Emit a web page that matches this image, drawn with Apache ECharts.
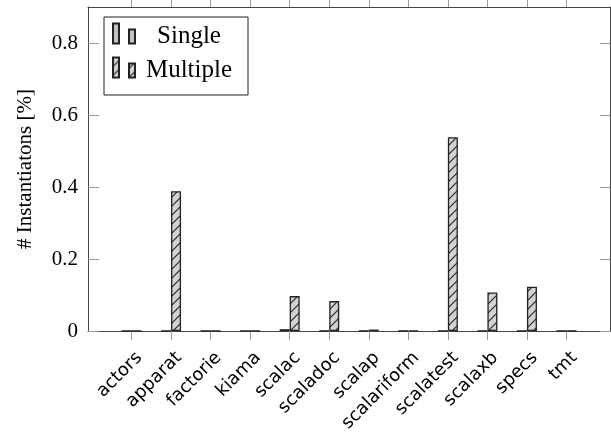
<!DOCTYPE html>
<html>
<head>
<meta charset="utf-8">
<script src="https://cdn.jsdelivr.net/npm/echarts@6/dist/echarts.min.js"></script>
<style>
  html, body { margin: 0; padding: 0; background: #fff; }
  #chart { width: 611px; height: 438px; }
</style>
</head>
<body>
<div id="chart"></div>
<script>
// 项目名
const categories = ['actors', 'apparat', 'factorie', 'kiama', 'scalac', 'scaladoc',
  'scalap', 'scalariform', 'scalatest', 'scalaxb', 'specs', 'tmt'];
// 单次实例化比例
const singleValues = [0, 0, 0, 0, 0.005, 0, 0, 0, 0, 0, 0, 0];
// 多次实例化比例
const multipleValues = [0, 0.388, 0, 0, 0.097, 0.083, 0.004, 0.001, 0.538, 0.107, 0.123, 0];
const yTicks = [0, 0.2, 0.4, 0.6, 0.8];
const catIndex = categories.map((c, i) => i);

const serif = '"Liberation Serif", "DejaVu Serif", serif';
const xMin = -1.1, xMax = 12.1;
const labelShift = 0.2; // 旋转标签向右挪一点

// 斜线填充
function hatch() {
  const c = document.createElement('canvas');
  c.width = 9; c.height = 9;
  const g = c.getContext('2d');
  g.fillStyle = '#d2d2d2';
  g.fillRect(0, 0, 9, 9);
  g.strokeStyle = '#222';
  g.lineWidth = 1.1;
  g.beginPath();
  g.moveTo(-1, 10); g.lineTo(10, -1);
  g.moveTo(-1, 1); g.lineTo(1, -1);
  g.moveTo(8, 10); g.lineTo(10, 8);
  g.stroke();
  return { image: c, repeat: 'repeat' };
}

const toPairs = vals => vals.map((v, i) => [i, v]);

let myChart = echarts.init(document.getElementById('chart'));
let option = {
  backgroundColor: '#fff',
  animation: false,
  grid: { left: 88, top: 7, right: 1, bottom: 107 },
  legend: {
    left: 104, top: 17,
    orient: 'vertical',
    borderColor: '#222', borderWidth: 1,
    padding: [1, 10, 12, 8],
    itemGap: 3,
    itemWidth: 22, itemHeight: 20,
    icon: 'path://M0,0H6V20H0Z M16,6H22V20H16Z',
    formatter: name => '{t|' + name + '}',
    textStyle: {
      fontFamily: serif, fontSize: 25, color: '#000',
      rich: { t: { width: 98, align: 'center', fontFamily: serif, fontSize: 25, lineHeight: 28, padding: [6, 0, 0, 0] } }
    },
    data: ['Single', 'Multiple']
  },
  xAxis: [
    {
      type: 'value', min: xMin, max: xMax, position: 'bottom',
      splitLine: { show: false },
      axisLine: { onZero: false, lineStyle: { color: '#444', width: 1 } },
      axisTick: { customValues: catIndex, inside: false, length: 9, lineStyle: { color: '#999' } },
      axisLabel: { show: false }
    },
    {
      type: 'value', min: xMin, max: xMax, position: 'top',
      splitLine: { show: false },
      axisLine: { onZero: false, lineStyle: { color: '#444', width: 1 } },
      axisTick: { customValues: catIndex, inside: false, length: 7, lineStyle: { color: '#999' } },
      axisLabel: { show: false }
    },
    {
      // 只画标签
      type: 'value', min: xMin - labelShift, max: xMax - labelShift, position: 'bottom',
      splitLine: { show: false },
      axisLine: { show: false, onZero: false },
      axisTick: { show: false },
      axisLabel: {
        customValues: catIndex,
        formatter: v => categories[Math.round(v)],
        rotate: 45, margin: 24,
        fontFamily: '"DejaVu Sans", sans-serif', fontSize: 18, color: '#000'
      }
    }
  ],
  yAxis: [
    {
      type: 'value', min: 0, max: 0.9, position: 'left',
      name: '# Instantiatons [%]',
      nameLocation: 'middle', nameRotate: 90, nameGap: 52,
      nameTextStyle: { fontFamily: serif, fontSize: 21, color: '#000' },
      splitLine: { show: false },
      axisLine: { show: true, onZero: false, lineStyle: { color: '#444', width: 1 } },
      axisTick: { customValues: yTicks, inside: true, length: 11, lineStyle: { color: '#999' } },
      axisLabel: { customValues: yTicks, margin: 10, fontFamily: serif, fontSize: 21, color: '#000' }
    },
    {
      type: 'value', min: 0, max: 0.9, position: 'right',
      splitLine: { show: false },
      axisLine: { show: true, onZero: false, lineStyle: { color: '#444', width: 1 } },
      axisTick: { customValues: yTicks, inside: true, length: 10, lineStyle: { color: '#999' } },
      axisLabel: { show: false }
    }
  ],
  series: [
    {
      name: 'Single', type: 'bar', xAxisIndex: 0, yAxisIndex: 0,
      barWidth: 10, barGap: '0%',
      itemStyle: { color: '#c4c4c4', borderColor: '#222', borderWidth: 1.3 },
      data: toPairs(singleValues)
    },
    {
      name: 'Multiple', type: 'bar', xAxisIndex: 0, yAxisIndex: 0,
      barWidth: 10, barGap: '0%',
      itemStyle: { color: hatch(), borderColor: '#222', borderWidth: 1.3 },
      data: toPairs(multipleValues)
    }
  ]
};
myChart.setOption(option);
</script>
</body>
</html>
